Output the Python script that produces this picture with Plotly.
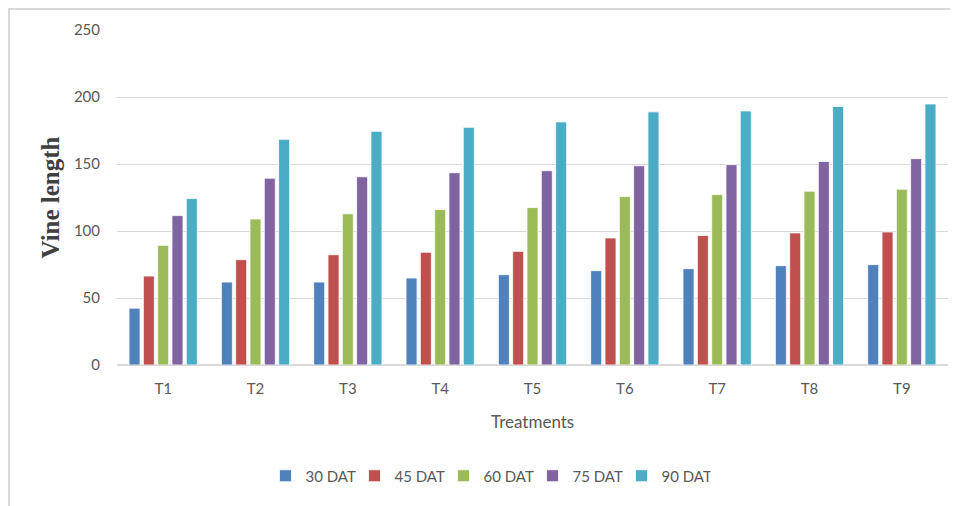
import plotly.graph_objects as go

treatments = ["T1", "T2", "T3", "T4", "T5", "T6", "T7", "T8", "T9"]
dat30 = [42.4, 61.9, 61.9, 64.9, 67.4, 70.4, 71.9, 74.1, 74.9]
dat45 = [66.4, 78.6, 82.3, 84.1, 84.8, 94.8, 96.6, 98.6, 99.3]
dat60 = [89.3, 109.0, 112.8, 116.0, 117.5, 125.7, 127.2, 129.7, 131.2]
dat75 = [111.5, 139.4, 140.5, 143.5, 145.0, 148.7, 149.5, 151.9, 154.0]
dat90 = [124.2, 168.4, 174.4, 177.4, 181.4, 188.9, 189.6, 192.9, 194.8]

series_names = ["30 DAT", "45 DAT", "60 DAT", "75 DAT", "90 DAT"]
series_values = [dat30, dat45, dat60, dat75, dat90]
colors = ["#4F81BD", "#C0504D", "#9BBB59", "#8064A2", "#4BACC6"]

fig = go.Figure()
for name, vals, col in zip(series_names, series_values, colors):
    fig.add_trace(go.Bar(
        x=treatments, y=vals, name=name,
        marker=dict(color=col, line=dict(color="rgba(255,255,255,0.8)", width=1)),
    ))

# page has an 8px body margin; figure origin is at page (8, 8)
OFF = 8
W, H = 958 - OFF, 506 - OFF
L, R, T = 117 - OFF, 10, 30 - OFF
B = H - (365 - OFF)
pw, ph = W - L - R, H - T - B


def px_x(page_x):
    return (page_x - OFF - L) / pw


def px_y(page_y):
    return (H - B - (page_y - OFF)) / ph


fig.update_layout(
    width=W, height=H,
    margin=dict(l=L, r=R, t=T, b=B),
    paper_bgcolor="white", plot_bgcolor="white",
    barmode="group", bargap=0.225, bargroupgap=0.23,
    font=dict(family="Lato, Open Sans, sans-serif", color="#595959", size=15),
    showlegend=True,
    legend=dict(orientation="h", x=px_x(488), xanchor="center",
                y=px_y(476), yanchor="middle",
                font=dict(size=15, color="#595959"), itemwidth=30,
                entrywidth=44, entrywidthmode="pixels",
                traceorder="normal"),
    xaxis=dict(showgrid=False, showline=False, ticks="", zeroline=False,
               ticklabelstandoff=13,
               tickfont=dict(size=15, color="#595959")),
    yaxis=dict(range=[0, 250], dtick=50, showgrid=True, gridcolor="#D9D9D9",
               gridwidth=1.3, zeroline=True, zerolinecolor="#D9D9D9",
               zerolinewidth=1.5, showline=False, ticks="",
               ticklabelstandoff=16,
               tickfont=dict(size=15, color="#595959")),
    annotations=[
        dict(text="<b>Vine length</b>", xref="paper", yref="paper",
             x=px_x(50), y=0.5, textangle=-90, showarrow=False,
             xanchor="center", yanchor="middle",
             font=dict(family="Liberation Serif, Times New Roman, serif",
                       size=25, color="#404040")),
        dict(text="Treatments", xref="paper", yref="paper",
             x=px_x(532), y=px_y(421), showarrow=False,
             xanchor="center", yanchor="middle",
             font=dict(size=17, color="#595959")),
    ],
    shapes=[dict(type="rect", xref="paper", yref="paper",
                 x0=px_x(9), x1=px_x(970),
                 y0=px_y(520), y1=px_y(9),
                 line=dict(color="#D9D9D9", width=2), layer="below")],
)

fig.write_html("out.html")
